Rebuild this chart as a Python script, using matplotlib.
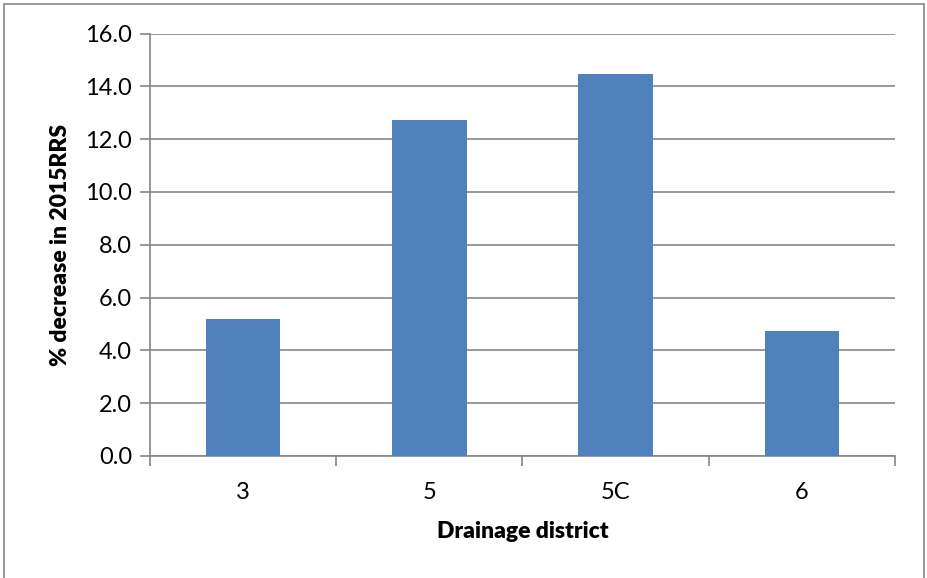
import matplotlib.pyplot as plt
import numpy as np
from matplotlib.patches import Rectangle

# Values
districts = ['3', '5', '5C', '6']
pct_decrease = [5.2, 12.73, 14.46, 4.72]

plt.rcParams['font.family'] = ['Lato', 'DejaVu Sans']

fig = plt.figure(figsize=(9.28, 5.78), dpi=100)
ax = fig.add_axes([150 / 928, 1 - 456 / 578, 745 / 928, 422.5 / 578])

x = np.arange(len(districts))
ax.bar(x, pct_decrease, width=0.4, color='#4F81BD', zorder=3)

grey = '#868686'
ax.set_xlim(-0.5, len(districts) - 0.5)
ax.set_ylim(0, 16)
ax.set_yticks(np.arange(0, 16.1, 2))
ax.set_yticklabels(['{:.1f}'.format(v) for v in np.arange(0, 16.1, 2)])
ax.yaxis.grid(True, color=grey, linewidth=1.2, zorder=0)

# category labels in the middle, tick marks at the boundaries
ax.set_xticks(np.arange(-0.5, len(districts), 1))
ax.set_xticklabels([])
ax.set_xticks(x, minor=True)
ax.set_xticklabels(districts, minor=True)
ax.tick_params(axis='x', which='minor', length=0, pad=19, labelsize=17)
ax.tick_params(axis='x', which='major', length=7, width=1.2, color=grey)
ax.tick_params(axis='y', length=7, width=1.2, color=grey, labelsize=17, pad=6)

for side in ['top', 'right']:
    ax.spines[side].set_visible(False)
for side in ['left', 'bottom']:
    ax.spines[side].set_color(grey)
    ax.spines[side].set_linewidth(1.2)

ax.set_xlabel('Drainage district', fontsize=16.5, fontweight='heavy', labelpad=13)
ax.set_ylabel('% decrease in 2015RRS', fontsize=16.5, fontweight='heavy', labelpad=10)

# outer chart border
fig.patches.append(Rectangle((4 / 928, -0.01), 920 / 928, 1 - 4 / 578 + 0.01,
                             transform=fig.transFigure, fill=False,
                             edgecolor=grey, linewidth=1.2))

fig.savefig('out.png', dpi=100)
